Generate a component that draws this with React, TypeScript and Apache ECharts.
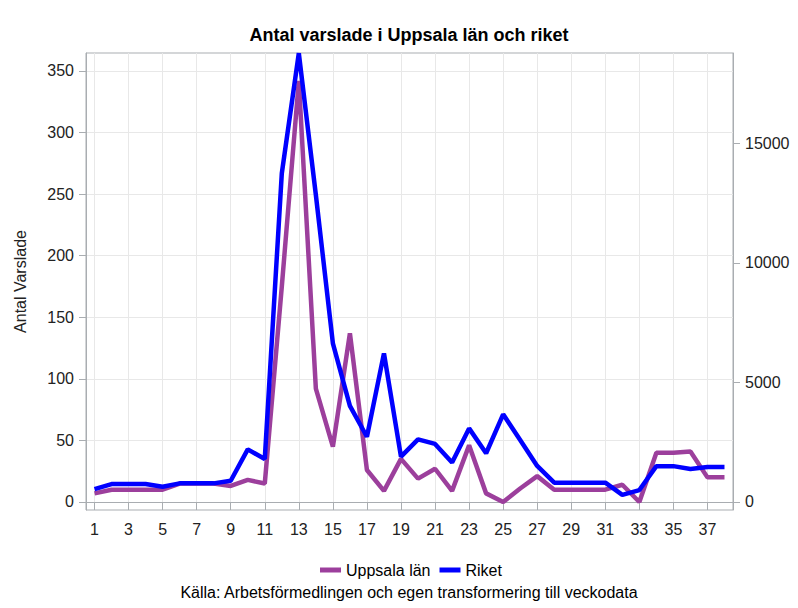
import React, { useEffect, useRef } from 'react';
import * as echarts from 'echarts';

const weeks = ['1','2','3','4','5','6','7','8','9','10','11','12','13','14','15','16','17','18','19','20','21','22','23','24','25','26','27','28','29','30','31','32','33','34','35','36','37','38'];
const uppsala = [7,10,10,10,10,15,15,15,13,18,15,175,342,92,45,137,26,9,35,19,27,9,46,7,0,11,21,10,10,10,10,14,0,40,40,41,20,20];
const riket = [540,750,750,750,640,780,780,780,890,2200,1800,13750,18780,12850,6640,4020,2730,6220,1900,2620,2430,1650,3080,2040,3670,2590,1510,810,810,810,810,300,500,1500,1500,1380,1460,1460];
const leftTicks = [0,50,100,150,200,250,300,350];
const rightTicks = [0,5000,10000,15000];

const FONT = '"Liberation Sans", Arial, sans-serif';
const FRAME = '#a9adb1';
const GRID = '#e8e8e8';

export default function App() {
  const ref = useRef<HTMLDivElement>(null);
  useEffect(() => {
    const chart = echarts.init(ref.current!, null, { renderer: 'svg' });
    chart.setOption({
      animation: false,
      backgroundColor: '#fff',
      textStyle: { fontFamily: FONT },
      grid: { left: 86, right: 65, top: 53, bottom: 98, show: true, borderColor: FRAME, borderWidth: 1 },
      graphic: [
        { type: 'text', x: 409, y: 35, style: { text: 'Antal varslade i Uppsala län och riket', font: 'bold 18px ' + FONT, fill: '#000', textAlign: 'center', textVerticalAlign: 'middle' } },
        { type: 'text', x: 409, y: 592, style: { text: 'Källa: Arbetsförmedlingen och egen transformering till veckodata', font: '16px ' + FONT, fill: '#000', textAlign: 'center', textVerticalAlign: 'middle' } },
      ],
      legend: {
        left: 315, top: 557, itemWidth: 21, itemHeight: 5, itemGap: 9,
        icon: 'rect',
        textStyle: { fontSize: 16, color: '#000', fontFamily: FONT },
        data: ['Uppsala län', 'Riket'],
      },
      xAxis: {
        type: 'category', data: weeks, boundaryGap: true,
        axisLine: { show: true, lineStyle: { color: FRAME, width: 1 } },
        axisTick: { show: true, interval: 1, alignWithLabel: true, length: 8, lineStyle: { color: FRAME } },
        axisLabel: { interval: 1, fontSize: 16, color: '#222', margin: 11 },
        splitLine: { show: true, interval: 1, alignWithLabel: true, lineStyle: { color: GRID } },
      },
      yAxis: [
        {
          type: 'value', position: 'left', min: -6.5, max: 364.6, splitNumber: 8,
          name: 'Antal Varslade', nameLocation: 'middle', nameGap: 58,
          nameTextStyle: { fontSize: 16, color: '#222', fontFamily: FONT },
          axisLine: { show: true, lineStyle: { color: FRAME, width: 1 } },
          axisTick: { show: true, length: 7, customValues: leftTicks, lineStyle: { color: FRAME } },
          axisLabel: { customValues: leftTicks, fontSize: 16, color: '#222', margin: 12, formatter: (v: number) => String(v) },
          splitLine: { show: true, lineStyle: { color: GRID } },
        },
        {
          type: 'value', position: 'right', min: -335, max: 18786, splitNumber: 4,
          axisLine: { show: true, lineStyle: { color: FRAME, width: 1 } },
          axisTick: { show: true, length: 7, customValues: rightTicks, lineStyle: { color: FRAME } },
          axisLabel: { customValues: rightTicks, fontSize: 16, color: '#222', margin: 12, formatter: (v: number) => String(v) },
          splitLine: { show: false },
        },
      ],
      series: [
        { type: 'line', name: 'Uppsala län', data: uppsala, yAxisIndex: 0, symbol: 'none', color: '#9c3f9c', lineStyle: { width: 4.5, color: '#9c3f9c' } },
        { type: 'line', name: 'Riket', data: riket, yAxisIndex: 1, symbol: 'none', color: '#0000ff', lineStyle: { width: 4.5, color: '#0000ff' } },
      ],
    });
    return () => chart.dispose();
  }, []);
  return <div ref={ref} style={{ position: 'fixed', left: 0, top: 0, width: 798, height: 608, background: '#fff' }} />;
}
